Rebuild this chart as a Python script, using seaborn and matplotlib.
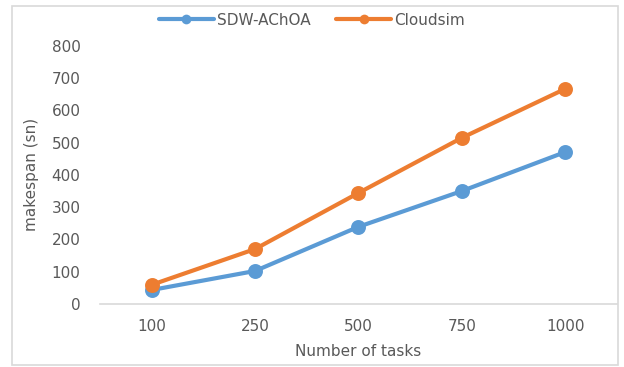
import numpy as np
import pandas as pd
import matplotlib.pyplot as plt
import seaborn as sns
from matplotlib.patches import Rectangle

# values
tasks = ['100', '250', '500', '750', '1000']
sdw_achoa = [43, 102, 239, 350, 471]
cloudsim = [59, 170, 344, 515, 667]

df = pd.DataFrame({
    'tasks': tasks * 2,
    'makespan': sdw_achoa + cloudsim,
    'method': ['SDW-AChOA'] * len(tasks) + ['Cloudsim'] * len(tasks),
})

sns.set_style('white')
plt.rcParams['font.family'] = ['DejaVu Sans']
grey = '#595959'
fs = 11

fig = plt.figure(figsize=(6.24, 3.67), dpi=100)
ax = fig.add_axes([0.160, 0.172, 0.829, 0.703])

sns.pointplot(data=df, x='tasks', y='makespan', hue='method', order=tasks,
              palette=['#5B9BD5', '#ED7D31'], markers='o', errorbar=None,
              linewidth=3, markersize=8.5, ax=ax)

ax.set_xlim(-0.5, 4.5)
ax.set_ylim(0, 800)
ax.set_yticks(range(0, 801, 100))
ax.set_xticks(np.arange(-0.5, 4.0, 1), minor=False)
ax.set_xticks(range(len(tasks)), minor=True)
ax.set_xticklabels([])
ax.set_xticklabels(tasks, minor=True)
ax.tick_params(axis='x', which='major', length=5, width=1, color='#d9d9d9', direction='out')
ax.tick_params(axis='x', which='minor', length=0, pad=11, labelsize=fs, labelcolor=grey)
ax.tick_params(axis='y', length=0, labelsize=fs, labelcolor=grey, pad=14)

for s in ['top', 'right', 'left']:
    ax.spines[s].set_visible(False)
ax.spines['bottom'].set_color('#d9d9d9')
ax.spines['bottom'].set_linewidth(1.2)

ax.set_xlabel('Number of tasks', fontsize=fs, color=grey, labelpad=7)
ax.set_ylabel('makespan (sn)', fontsize=fs, color=grey, labelpad=9)

handles, labels = ax.get_legend_handles_labels()
leg = ax.legend(handles, labels, loc='center', bbox_to_anchor=(0.5, 0.945),
                bbox_transform=fig.transFigure, ncol=2, frameon=False,
                fontsize=fs, labelcolor=grey, handlelength=3.6, columnspacing=1.7,
                handletextpad=0.2)
for line in leg.get_lines():
    line.set_markersize(7)
    line.set_markeredgewidth(0)

fig.patches.append(Rectangle((0.02, 0.005), 0.97, 0.98, transform=fig.transFigure,
                             fill=False, edgecolor='#d9d9d9', linewidth=1.2))

fig.savefig('out.png', dpi=100)
